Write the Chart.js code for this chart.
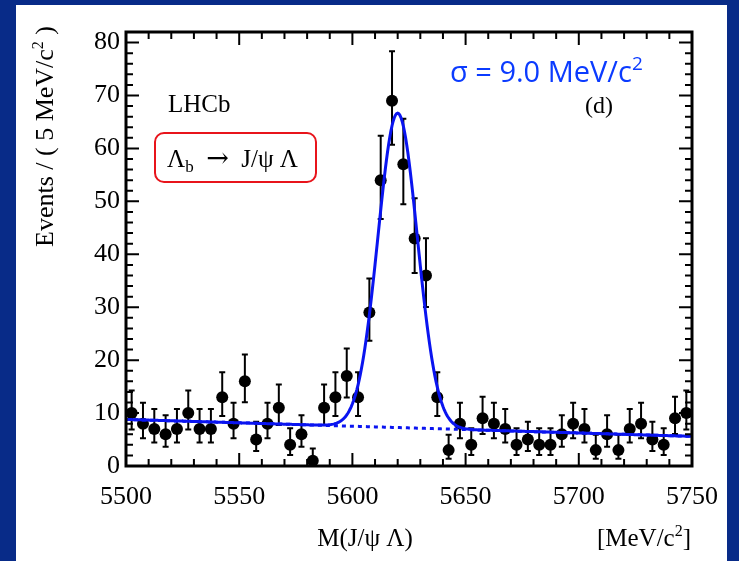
<!DOCTYPE html>
<html>
<head>
<meta charset="utf-8">
<style>
html, body { margin: 0; padding: 0; background: #082b88; }
#wrap { position: absolute; left: 0; top: 0; width: 739px; height: 561px; }
</style>
<script src="https://cdn.jsdelivr.net/npm/chart.js@4.4.0/dist/chart.umd.min.js"></script>
</head>
<body>
<div id="wrap"><canvas id="c" width="739" height="561"></canvas></div>
<script>
// ============================
// Data
// ============================
const binCenters = [
  5502.5, 5507.5, 5512.5, 5517.5, 5522.5, 5527.5, 5532.5, 5537.5, 5542.5, 5547.5,
  5552.5, 5557.5, 5562.5, 5567.5, 5572.5, 5577.5, 5582.5, 5587.5, 5592.5, 5597.5,
  5602.5, 5607.5, 5612.5, 5617.5, 5622.5, 5627.5, 5632.5, 5637.5, 5642.5, 5647.5,
  5652.5, 5657.5, 5662.5, 5667.5, 5672.5, 5677.5, 5682.5, 5687.5, 5692.5, 5697.5,
  5702.5, 5707.5, 5712.5, 5717.5, 5722.5, 5727.5, 5732.5, 5737.5, 5742.5, 5747.5
];
const counts = [
  10, 8, 7, 6, 7, 10, 7, 7, 13, 8,
  16, 5, 8, 11, 4, 6, 1, 11, 13, 17,
  13, 29, 54, 69, 57, 43, 36, 13, 3, 8,
  4, 9, 8, 7, 4, 5, 4, 4, 6, 8,
  7, 3, 6, 3, 7, 8, 5, 4, 9, 10
];
const xTickLabels = [5500, 5550, 5600, 5650, 5700, 5750];
const yTickLabels = [0, 10, 20, 30, 40, 50, 60, 70, 80];

// fit parameters (signal gaussian + linear background)
const fitMean = 5620.0;
const fitSigma = 8.7;
const fitPeak = 59.4;
const bgAt5500 = 8.8;
const bgSlope = -0.0128;

// ============================
// Curves from the fit model
// ============================
function background(m) { return bgAt5500 + bgSlope * (m - 5500); }
function model(m) {
  const d = (m - fitMean) / fitSigma;
  return background(m) + fitPeak * Math.exp(-0.5 * d * d);
}
const curvePts = [];
const bgPts = [];
for (let m = 5500; m <= 5750; m += 0.5) {
  curvePts.push({ x: m, y: model(m) });
  bgPts.push({ x: m, y: background(m) });
}

// Poisson (Gehrels) error bars
function errLow(n) {
  if (n <= 0) return 0;
  return n - n * Math.pow(1 - 1 / (9 * n) - 1 / (3 * Math.sqrt(n)), 3);
}
function errHigh(n) {
  const k = n + 1;
  return k * Math.pow(1 - 1 / (9 * k) + 1 / (3 * Math.sqrt(k)), 3) - n;
}

const SERIF = "'Liberation Serif', 'DejaVu Serif', serif";

// draw text made of runs (for sub/superscripts)
function drawRuns(ctx, x, y, parts, align) {
  let total = 0;
  parts.forEach(p => { ctx.font = p.size + 'px ' + (p.family || SERIF); p.w = ctx.measureText(p.t).width; total += p.w; });
  let cx = align === 'right' ? x - total : (align === 'center' ? x - total / 2 : x);
  parts.forEach(p => {
    ctx.font = p.size + 'px ' + (p.family || SERIF);
    ctx.fillText(p.t, cx, y + (p.dy || 0));
    cx += p.w;
  });
}

// ============================
// Plugin: frame, ticks, error bars, labels
// ============================
const decor = {
  id: 'decor',
  beforeDraw(chart) {
    const ctx = chart.ctx;
    ctx.save();
    ctx.fillStyle = '#082b88';
    ctx.fillRect(0, 0, chart.width, chart.height);
    ctx.fillStyle = '#ffffff';
    ctx.fillRect(16, 5, 711, 556);
    ctx.restore();
  },
  beforeDatasetsDraw(chart) {
    const ctx = chart.ctx;
    const xs = chart.scales.x, ys = chart.scales.y;
    ctx.save();
    ctx.strokeStyle = '#000';
    ctx.lineWidth = 2;
    counts.forEach((n, i) => {
      const px = xs.getPixelForValue(binCenters[i]);
      const top = ys.getPixelForValue(n + errHigh(n));
      const bot = ys.getPixelForValue(n - errLow(n));
      ctx.beginPath();
      ctx.moveTo(px, top); ctx.lineTo(px, bot);
      ctx.moveTo(px - 3, top); ctx.lineTo(px + 3, top);
      ctx.moveTo(px - 3, bot); ctx.lineTo(px + 3, bot);
      ctx.stroke();
    });
    ctx.restore();
  },
  afterDraw(chart) {
    const ctx = chart.ctx;
    const a = chart.chartArea;
    const xs = chart.scales.x, ys = chart.scales.y;
    ctx.save();
    // ticks on all four sides, pointing inwards
    ctx.strokeStyle = '#000';
    ctx.lineWidth = 2;
    ctx.beginPath();
    for (let v = 5500; v <= 5750; v += 10) {
      const px = xs.getPixelForValue(v);
      const len = (v % 50 === 0) ? 13 : 7;
      ctx.moveTo(px, a.bottom); ctx.lineTo(px, a.bottom - len);
      ctx.moveTo(px, a.top); ctx.lineTo(px, a.top + len);
    }
    for (let v = 0; v <= 80; v += 2) {
      const py = ys.getPixelForValue(v);
      const len = (v % 10 === 0) ? 13 : 7;
      ctx.moveTo(a.left, py); ctx.lineTo(a.left + len, py);
      ctx.moveTo(a.right, py); ctx.lineTo(a.right - len, py);
    }
    ctx.stroke();
    ctx.lineWidth = 3;
    ctx.strokeRect(a.left, a.top, a.right - a.left, a.bottom - a.top);

    // axis titles
    ctx.fillStyle = '#000';
    ctx.textBaseline = 'alphabetic';
    drawRuns(ctx, 365, 546, [{ t: 'M(J/\u03c8 \u039b)', size: 25 }], 'center');
    drawRuns(ctx, 691, 546, [
      { t: '[MeV/c', size: 25 }, { t: '2', size: 16, dy: -10 }, { t: ']', size: 25 }
    ], 'right');
    ctx.save();
    ctx.translate(53, 26);
    ctx.rotate(-Math.PI / 2);
    drawRuns(ctx, 0, 0, [
      { t: 'Events / ( 5 MeV/c', size: 26 }, { t: '2', size: 16, dy: -10 }, { t: ' )', size: 26 }
    ], 'right');
    ctx.restore();

    // labels inside the frame
    drawRuns(ctx, 168, 112, [{ t: 'LHCb', size: 25 }], 'left');
    drawRuns(ctx, 585, 113, [{ t: '(d)', size: 24 }], 'left');

    ctx.strokeStyle = '#e8141b';
    ctx.lineWidth = 2;
    ctx.beginPath();
    ctx.roundRect(155, 133, 161, 49, 9);
    ctx.stroke();
    drawRuns(ctx, 167, 167, [
      { t: '\u039b', size: 25 }, { t: 'b', size: 17, dy: 5 },
      { t: '  ', size: 25 }, { t: '\u2192', size: 27, family: "'DejaVu Serif', serif" },
      { t: '  J/\u03c8 \u039b', size: 25 }
    ], 'left');

    ctx.fillStyle = '#0b3bff';
    const sans = "'Open Sans', Lato, sans-serif";
    drawRuns(ctx, 450, 82, [
      { t: '\u03c3 = 9.0 MeV/c', size: 29, family: sans },
      { t: '2', size: 19, dy: -12, family: sans }
    ], 'left');
    ctx.restore();
  }
};

// ============================
// Chart
// ============================
const points = binCenters.map((m, i) => ({ x: m, y: counts[i] }));

new Chart(document.getElementById('c'), {
  type: 'scatter',
  data: {
    datasets: [
      {
        label: 'fit',
        data: curvePts,
        showLine: true,
        borderColor: '#0a14f0',
        borderWidth: 3,
        pointRadius: 0,
        tension: 0,
        order: 1
      },
      {
        label: 'background',
        data: bgPts,
        showLine: true,
        borderColor: '#0a14f0',
        borderWidth: 3,
        borderDash: [4, 4],
        pointRadius: 0,
        order: 2
      },
      {
        label: 'data',
        data: points,
        showLine: false,
        pointRadius: 6,
        pointBackgroundColor: '#000',
        pointBorderColor: '#000',
        pointBorderWidth: 0,
        order: 3
      }
    ]
  },
  options: {
    responsive: false,
    animation: false,
    devicePixelRatio: 1,
    layout: { padding: { left: 0, top: 32, right: 47, bottom: 0 } },
    plugins: { legend: { display: false }, tooltip: { enabled: false } },
    scales: {
      x: {
        type: 'linear',
        min: 5500,
        max: 5750,
        grid: { display: false, drawTicks: false },
        border: { display: false },
        afterBuildTicks: s => { s.ticks = xTickLabels.map(v => ({ value: v })); },
        afterFit: s => { s.height = 95; },
        ticks: {
          color: '#000',
          padding: 16,
          maxRotation: 0,
          font: { family: SERIF, size: 26 },
          callback: v => String(v)
        }
      },
      y: {
        type: 'linear',
        min: 0,
        max: 82,
        grid: { display: false, drawTicks: false },
        border: { display: false },
        afterBuildTicks: s => { s.ticks = yTickLabels.map(v => ({ value: v })); },
        afterFit: s => { s.width = 126; },
        ticks: {
          color: '#000',
          padding: 6,
          font: { family: SERIF, size: 26 },
          callback: v => String(v)
        }
      }
    }
  },
  plugins: [decor]
});
</script>
</body>
</html>
